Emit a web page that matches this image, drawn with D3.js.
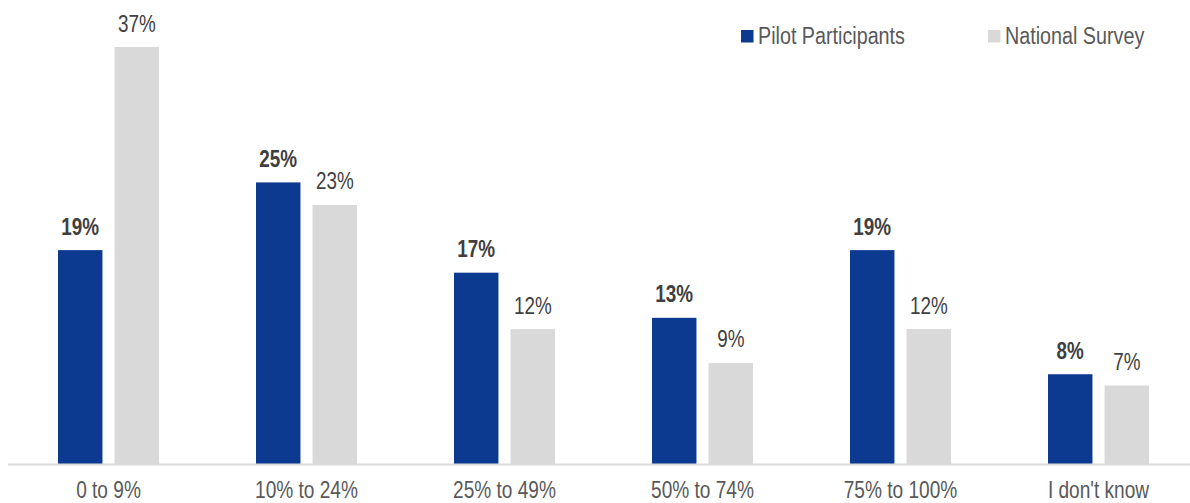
<!DOCTYPE html>
<html>
<head>
<meta charset="utf-8">
<script src="https://cdn.jsdelivr.net/npm/d3@7"></script>
<style>
  html, body { margin: 0; padding: 0; background: #fff; }
  svg text { font-family: "Liberation Sans Narrow", "Arial Narrow", "Liberation Sans", Arial, sans-serif; }
</style>
</head>
<body>
<svg id="chart" width="1190" height="503"></svg>
<script>
// Share of respondents by range
const categories = ["0 to 9%", "10% to 24%", "25% to 49%", "50% to 74%", "75% to 100%", "I don't know"];
const seriesNames = ["Pilot Participants", "National Survey"];
const pilotValues = [19, 25, 17, 13, 19, 8];
const nationalValues = [37, 23, 12, 9, 12, 7];
const colors = ["#0C3A91", "#D9D9D9"];

const rows = categories.map((c, i) => ({
  category: c,
  values: [
    { series: seriesNames[0], value: pilotValues[i] },
    { series: seriesNames[1], value: nationalValues[i] }
  ]
}));

// condensed look: squeeze text horizontally around its anchor point
function place(sel, fx, fy, k) {
  sel.attr("x", null).attr("y", null)
    .attr("transform", (d, i) => `translate(${fx(d, i)},${fy(d, i)}) scale(${k},1)`);
}

const svg = d3.select("#chart");
const baseline = 464.5;

const x0 = d3.scaleBand().domain(categories).range([9.5, 1197.5]).padding(0);
const x1 = d3.scaleBand().domain(seriesNames).range([-50.5, 50.5]).paddingInner(0.214);
const y = d3.scaleLinear().domain([0, 37]).range([baseline, 47]);
const color = d3.scaleOrdinal().domain(seriesNames).range(colors);

// bars
const groups = svg.append("g").selectAll("g")
  .data(rows).join("g")
  .attr("transform", d => `translate(${x0(d.category) + x0.bandwidth() / 2},0)`);

groups.selectAll("rect")
  .data(d => d.values).join("rect")
  .attr("x", d => x1(d.series))
  .attr("width", x1.bandwidth())
  .attr("y", d => y(d.value))
  .attr("height", d => baseline - y(d.value))
  .attr("fill", d => color(d.series));

// value labels
groups.selectAll("text")
  .data(d => d.values).join("text")
  .attr("text-anchor", "middle")
  .attr("font-size", 23)
  .attr("font-weight", d => d.series === seriesNames[0] ? "bold" : "normal")
  .attr("fill", "#404040")
  .text(d => d.value + "%")
  .call(place, d => x1(d.series) + x1.bandwidth() / 2, d => y(d.value) - 15.5, 0.82);

// category axis
const axis = svg.append("g")
  .attr("transform", `translate(0,${baseline})`)
  .call(d3.axisBottom(x0).tickSize(0).tickPadding(0));
axis.select(".domain").remove();
axis.attr("font-family", null).attr("font-size", null);
axis.insert("line", ":first-child")
  .attr("x1", 8).attr("x2", 1190)
  .attr("stroke", "#D9D9D9").attr("stroke-width", 2);
axis.selectAll(".tick text")
  .attr("dy", null)
  .attr("font-size", 23)
  .attr("fill", "#595959")
  .call(place, () => 0, () => 33.5, 0.83);

// legend
const legendX = [741, 988];
const legend = svg.append("g").selectAll("g")
  .data(seriesNames).join("g")
  .attr("transform", (d, i) => `translate(${legendX[i]},30)`);
legend.append("rect")
  .attr("width", 12.5).attr("height", 12.5)
  .attr("fill", d => color(d));
legend.append("text")
  .attr("font-size", 23.5)
  .attr("fill", "#595959")
  .text(d => d)
  .call(place, () => 17, () => 14, 0.84);
</script>
</body>
</html>
